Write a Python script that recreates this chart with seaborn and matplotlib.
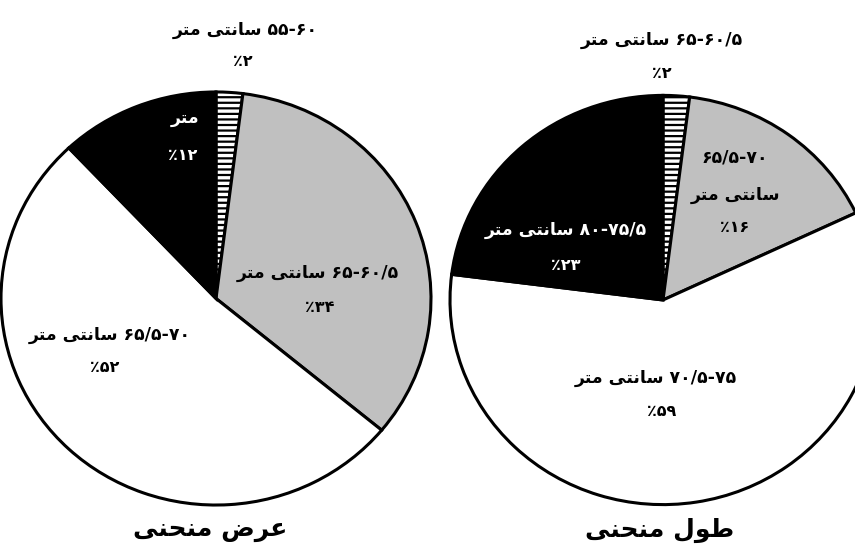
import matplotlib
matplotlib.use("Agg")
import matplotlib.pyplot as plt
import seaborn as sns

# data (shares in percent), clockwise from the top
width_labels = ["55-60", "65-60/5", "65/5-70", "75-70/5"]
width_values = [2, 34, 52, 12]
length_labels = ["65-60/5", "65/5-70", "70/5-75", "80-75/5"]
length_values = [2, 16, 59, 23]
slice_colors = ["white", "#c0c0c0", "white", "black"]

# --- tiny arabic-script shaper (matplotlib does no shaping / bidi) ---
FORMS = {
    'س': ('\uFEB1', '\uFEB2', '\uFEB3', '\uFEB4'),
    'ن': ('\uFEE5', '\uFEE6', '\uFEE7', '\uFEE8'),
    'ت': ('\uFE95', '\uFE96', '\uFE97', '\uFE98'),
    'ی': ('\uFBFC', '\uFBFD', '\uFBFE', '\uFBFF'),
    'م': ('\uFEE1', '\uFEE2', '\uFEE3', '\uFEE4'),
    'ع': ('\uFEC9', '\uFECA', '\uFECB', '\uFECC'),
    'ض': ('\uFEBD', '\uFEBE', '\uFEBF', '\uFEC0'),
    'ح': ('\uFEA1', '\uFEA2', '\uFEA3', '\uFEA4'),
    'ط': ('\uFEC1', '\uFEC2', '\uFEC3', '\uFEC4'),
    'ل': ('\uFEDD', '\uFEDE', '\uFEDF', '\uFEE0'),
    'ا': ('\uFE8D', '\uFE8E'),
    'ر': ('\uFEAD', '\uFEAE'),
    'و': ('\uFEED', '\uFEEE'),
}
RIGHT_ONLY = set('ارو')


def shape_word(word):
    out = []
    for i, ch in enumerate(word):
        f = FORMS[ch]
        prev_j = i > 0 and word[i - 1] not in RIGHT_ONLY
        next_j = i < len(word) - 1 and ch not in RIGHT_ONLY
        if prev_j and next_j:
            out.append(f[3])
        elif prev_j:
            out.append(f[1])
        elif next_j:
            out.append(f[2])
        else:
            out.append(f[0])
    return ''.join(reversed(out))


def rtl(text):
    # text in logical order, words only -> visual left-to-right
    return ' '.join(shape_word(w) for w in reversed(text.split()))


def fa_digits(s):
    return s.translate(str.maketrans("0123456789", "۰۱۲۳۴۵۶۷۸۹"))


def pct(v):
    return "\u066A" + fa_digits(str(v))


cm = rtl("سانتی متر")

sns.set_theme(style="white")
plt.rcParams['font.family'] = ['DejaVu Sans']
plt.rcParams['hatch.linewidth'] = 1.6
plt.rcParams['text.color'] = 'black'

W, H = 855, 556
SY = 1.041  # the source pies are slightly wider than tall
fig = plt.figure(figsize=(W / 100, H / 100), dpi=100)
ax = fig.add_axes([0, 0, 1, 1])


def Y(y):
    return (H - y) * SY


wp = dict(edgecolor="black", linewidth=2.2)
w1, _ = ax.pie(width_values, colors=slice_colors, startangle=90, counterclock=False,
               center=(216, Y(298.5)), radius=215, wedgeprops=wp)
w2, _ = ax.pie(length_values, colors=slice_colors, startangle=90, counterclock=False,
               center=(663, Y(300)), radius=213, wedgeprops=wp)
for w in (w1[0], w2[0]):
    w.set_hatch('---')

ax.set_xlim(0, W)
ax.set_ylim(0, H * SY)
ax.set_aspect('auto')
ax.axis('off')

fs = 12.5
kw = dict(ha='center', va='center', fontsize=fs, fontweight='bold', color='black')
pk = dict(ha='center', va='center', fontsize=11.5, fontweight='bold', color='black')
kw_w = dict(kw, color='white')
pk_w = dict(pk, color='white')

# left pie: curve width
ax.text(245, Y(30), cm + " " + fa_digits(width_labels[0]), **kw)
ax.text(243, Y(62), pct(width_values[0]), **pk)
ax.text(318, Y(273), cm + " " + fa_digits(width_labels[1]), **kw)
ax.text(320, Y(307), pct(width_values[1]), **pk)
ax.text(110, Y(335), cm + " " + fa_digits(width_labels[2]), **kw)
ax.text(105, Y(367), pct(width_values[2]), **pk)
ax.text(185, Y(118), rtl("متر"), **kw_w)
ax.text(183, Y(155), pct(width_values[3]), **pk_w)
ax.text(210, Y(530), rtl("عرض منحنی"), ha='center', va='center', fontsize=18,
        fontweight='bold', color='black')

# right pie: curve length
ax.text(662, Y(40), cm + " " + fa_digits(length_labels[0]), **kw)
ax.text(662, Y(73), pct(length_values[0]), **pk)
ax.text(735, Y(158), fa_digits(length_labels[1]), **kw)
ax.text(735, Y(195), cm, **kw)
ax.text(735, Y(228), pct(length_values[1]), **pk)
ax.text(656, Y(378), cm + " " + fa_digits(length_labels[2]), **kw)
ax.text(662, Y(411), pct(length_values[2]), **pk)
ax.text(566, Y(230), cm + " " + fa_digits(length_labels[3]), **kw_w)
ax.text(566, Y(265), pct(length_values[3]), **pk_w)
ax.text(660, Y(530), rtl("طول منحنی"), ha='center', va='center', fontsize=18,
        fontweight='bold', color='black')

fig.savefig("out.png", dpi=100)
